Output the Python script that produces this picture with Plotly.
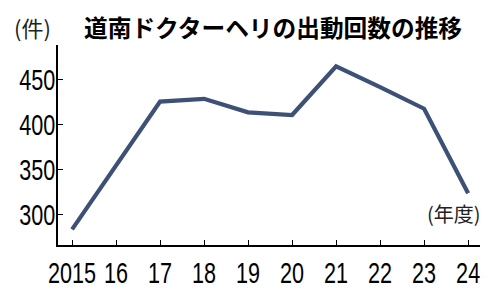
import plotly.graph_objects as go

years = [2015, 2016, 2017, 2018, 2019, 2020, 2021, 2022, 2023, 2024]
tick_labels = ["2015", "16", "17", "18", "19", "20", "21", "22", "23", "24"]
counts = [283, 355, 425, 428, 413, 410, 464, 441, 417, 323]
y_ticks = [300, 350, 400, 450]

title_text = "道南ドクターヘリの出動回数の推移"
unit_text = "(件)"
xunit_text = "(年度)"

num_font = "Liberation Sans, Arial, sans-serif"
jp_font = "Noto Sans CJK JP, sans-serif"

fig = go.Figure()
fig.add_trace(go.Scatter(
    x=years, y=counts, mode="lines",
    line=dict(color="#3d5075", width=4.2),
    hoverinfo="skip", showlegend=False,
))

fig.update_layout(
    width=495, height=293,
    margin=dict(l=58, r=15, t=45, b=48),
    paper_bgcolor="white", plot_bgcolor="white",
    xaxis=dict(
        range=[2014.68, 2024.27],
        tickmode="array", tickvals=years, ticktext=tick_labels,
        ticks="inside", ticklen=5, tickcolor="black", tickwidth=1.2,
        showline=True, linecolor="black", linewidth=1.5,
        showgrid=False, zeroline=False, tickangle=0, automargin=False,
        tickfont=dict(family=num_font, size=30, color="black"),
    ),
    yaxis=dict(
        range=[265.6, 487.8],
        tickmode="array", tickvals=y_ticks,
        ticks="inside", ticklen=5, tickcolor="black", tickwidth=1.2,
        showline=True, linecolor="black", linewidth=1.5,
        showgrid=False, zeroline=False, automargin=False,
        tickfont=dict(family=num_font, size=30, color="black"),
        ticklabelstandoff=-5,
    ),
    annotations=[
        dict(text="<b>" + title_text + "</b>", xref="paper", yref="paper",
             x=0.057, y=1.09, xanchor="left", yanchor="middle", showarrow=False,
             font=dict(family=jp_font, size=23.7, color="black")),
        dict(text=unit_text, xref="paper", yref="paper",
             x=-0.108, y=1.09, xanchor="left", yanchor="middle", showarrow=False,
             font=dict(family=jp_font, size=22, color="#222")),
        dict(text=xunit_text, xref="paper", yref="paper",
             x=0.938, y=0.16, xanchor="center", yanchor="middle", showarrow=False,
             font=dict(family=jp_font, size=20, color="#222")),
    ],
)

# Condense the numeric tick labels (the reference uses a narrow typeface)
condense_js = """
var gd = document.getElementById('{plot_id}');
function condense() {
  gd.querySelectorAll('.xtick text, .ytick text').forEach(function (t) {
    if (!t.hasAttribute('data-w')) {
      t.setAttribute('data-w', t.getComputedTextLength());
    }
    var w = parseFloat(t.getAttribute('data-w'));
    t.setAttribute('textLength', (w * 0.72).toFixed(2));
    t.setAttribute('lengthAdjust', 'spacingAndGlyphs');
  });
}
condense();
gd.on && gd.on('plotly_afterplot', condense);
"""

fig.write_html("out.html", post_script=condense_js)
